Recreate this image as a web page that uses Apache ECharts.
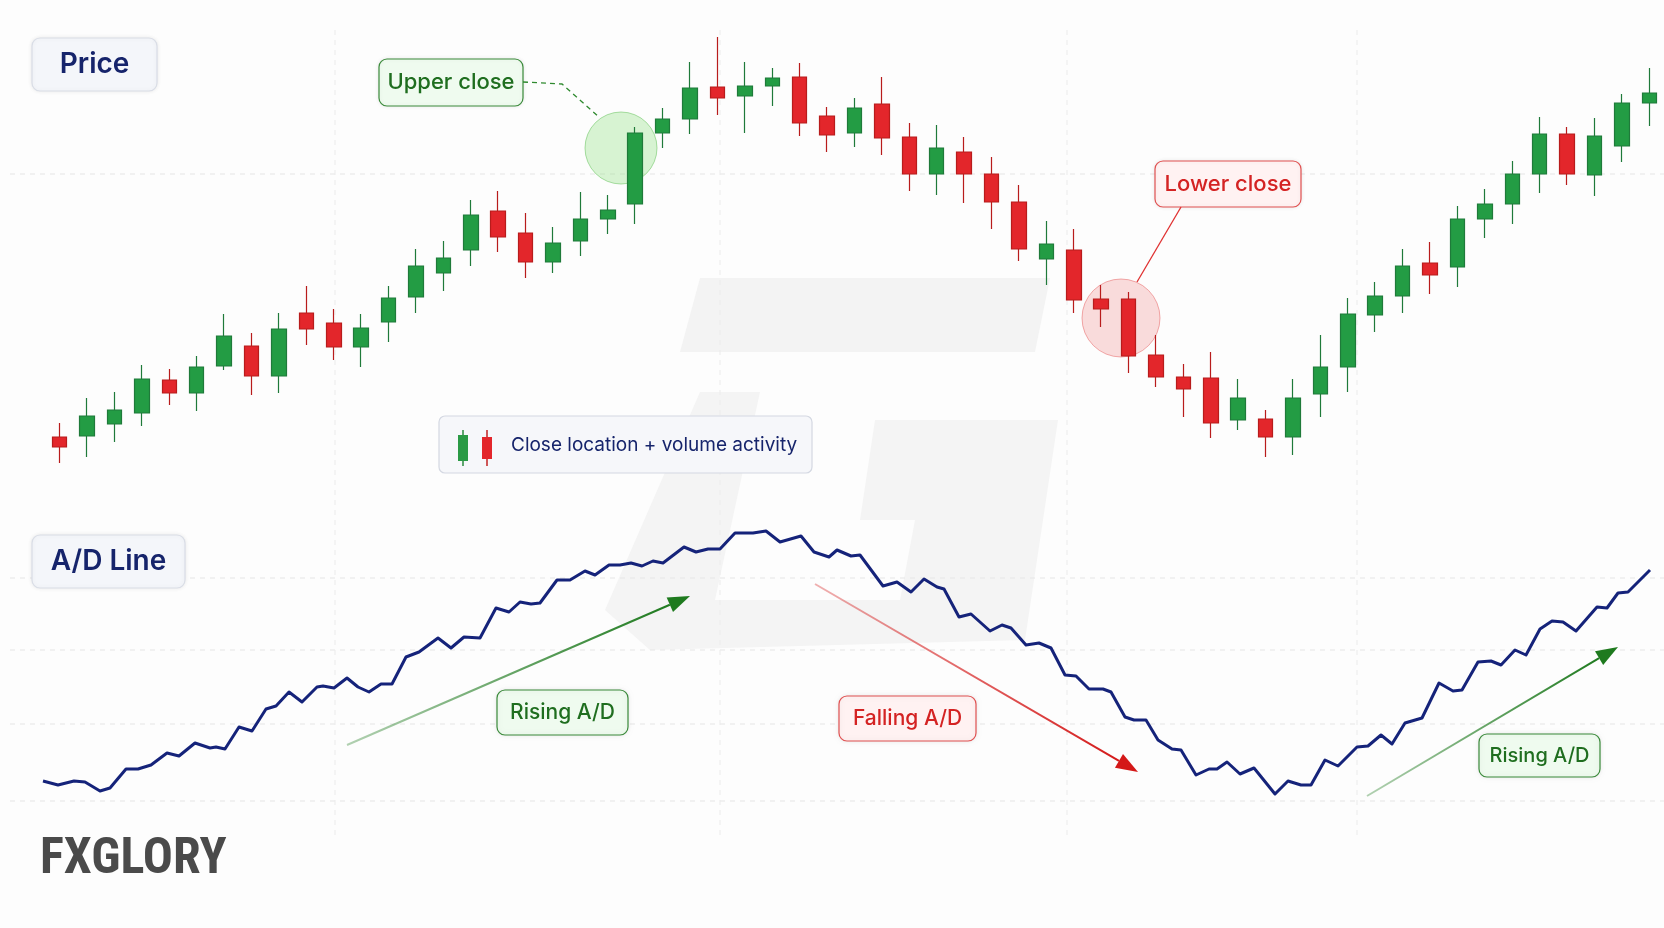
<!DOCTYPE html>
<html>
<head>
<meta charset="utf-8">
<script src="https://cdn.jsdelivr.net/npm/echarts@6/dist/echarts.min.js"></script>
<style>
  html, body { margin: 0; padding: 0; background: #fff; }
  #chart { width: 1664px; height: 928px; }
</style>
</head>
<body>
<div id="chart"></div>
<script>
// 价格K线 [open, close, low, high]
var candleData = [
  [563,553,537,577],[564,584,543,602],[576,590,558,608],[587,621,574,635],[620,607,595,631],
  [607,633,589,644],[634,664,630,686],[654,624,605,667],[624,671,607,687],[687,671,655,714],
  [677,653,640,691],[653,672,633,686],[678,702,658,714],[703,734,687,751],[727,742,709,759],
  [750,785,734,800],[789,763,748,809],[767,738,722,787],[738,757,727,773],[759,781,744,808],
  [781,790,766,805],[796,867,776,873],[867,881,852,892],[881,912,866,938],[913,902,885,963],
  [904,914,867,938],[914,922,894,932],[923,877,864,937],[884,865,848,893],[867,892,853,902],
  [896,862,845,923],[863,826,809,877],[826,852,805,875],[848,826,797,863],[826,798,771,843],
  [798,751,739,815],[741,756,715,779],[750,700,687,771],[701,691,673,715],[701,644,627,708],
  [645,623,613,665],[623,611,583,636],[622,577,562,648],[580,602,570,621],[581,563,543,590],
  [563,602,545,621],[606,633,583,665],[633,686,608,702],[685,704,668,718],[704,734,687,751],
  [737,725,706,758],[733,781,713,794],[781,796,762,811],[796,826,776,839],[826,866,807,883],
  [866,826,815,873],[825,864,804,882],[854,897,838,906],[897,907,874,932]
];
var candleCats = candleData.map(function (d, i) { return i + 1; });

// A/D 线：时间位置 与 数值
var adT = [43,58,74,85,100,110,126,138,151,167,179,195,210,216,225,239,252,266,276,289,302,317,323,334,347,358,369,381,392,406,419,438,451,464,480,496,509,520,531,540,557,570,585,595,609,620,631,642,653,663,684,696,708,720,735,753,766,780,801,814,829,
  837,851,860,883,897,911,924,937,944,959,971,990,1002,1011,1026,1039,1051,1065,1076,1089,1103,1111,1125,1134,1146,1158,1172,1181,1196,1209,1217,1227,1240,1254,1275,1288,1301,1311,1325,1338,1357,1368,1381,1392,1405,1422,1439,1453,1462,1478,1491,1501,1515,1526,1540,1552,1563,1576,1597,1607,1618,1628,1650];
var adVal = [219,215,219,218,209,212,231,231,235,247,244,257,252,253,251,273,269,291,294,308,298,313,314,312,322,313,308,316,316,343,348,362,352,363,362,392,388,398,396,397,420,420,429,425,435,435,437,434,439,437,453,448,451,451,467,467,469,458,464,448,443,
  450,444,445,414,418,408,421,413,411,383,386,369,375,372,355,357,352,325,324,311,311,308,283,280,280,260,251,250,225,231,231,238,226,232,206,219,215,215,240,234,253,254,265,256,277,282,317,309,310,338,339,335,350,345,371,379,378,369,393,392,407,408,430];
var adData = adT.map(function (t, i) { return [t, adVal[i]]; });

var chart = echarts.init(document.getElementById('chart'));
var FONT = 'Inter, Roboto, sans-serif';

function box(x, y, w, h, text, color, fill, stroke, size, weight) {
  return {
    type: 'group', z: 20,
    children: [
      { type: 'rect', shape: { x: x, y: y, width: w, height: h, r: 8 },
        style: { fill: fill, stroke: stroke, lineWidth: 1.2, shadowBlur: 4, shadowColor: 'rgba(0,0,0,0.08)' } },
      { type: 'text', x: x + w / 2, y: y + h / 2,
        style: { text: text, fill: color, font: (weight || 600) + ' ' + size + 'px ' + FONT, align: 'center', verticalAlign: 'middle' } }
    ]
  };
}
function dashH(y) {
  return { type: 'line', z: 0, shape: { x1: 10, y1: y, x2: 1664, y2: y }, style: { stroke: '#e6e6e6', lineDash: [5, 5], lineWidth: 1 } };
}
function dashV(x) {
  return { type: 'line', z: 0, shape: { x1: x, y1: 30, x2: x, y2: 840 }, style: { stroke: '#ececec', lineDash: [5, 5], lineWidth: 1 } };
}
function arrow(x1, y1, x2, y2, color) {
  var a = Math.atan2(y2 - y1, x2 - x1), L = 22, W = 8;
  var bx = x2 - L * Math.cos(a), by = y2 - L * Math.sin(a);
  return {
    type: 'group', z: 15,
    children: [
      { type: 'line', shape: { x1: x1, y1: y1, x2: bx, y2: by },
        style: { lineWidth: 2, stroke: new echarts.graphic.LinearGradient(0, 0, 1, 0, [{ offset: 0, color: color + '55' }, { offset: 1, color: color }]) } },
      { type: 'polygon', shape: { points: [[x2, y2], [bx + W * Math.sin(a), by - W * Math.cos(a)], [bx - W * Math.sin(a), by + W * Math.cos(a)]] },
        style: { fill: color } }
    ]
  };
}

var option = {
  backgroundColor: '#fdfdfd',
  animation: false,
  grid: [
    { left: 46, right: 1, top: 0, bottom: 0 },
    { left: 0, right: 0, top: 0, bottom: 0 }
  ],
  xAxis: [
    { type: 'category', gridIndex: 0, data: candleCats, show: false, boundaryGap: true },
    { type: 'value', gridIndex: 1, min: 0, max: 1664, show: false }
  ],
  yAxis: [
    { type: 'value', gridIndex: 0, min: 72, max: 1000, show: false },
    { type: 'value', gridIndex: 1, min: 72, max: 1000, show: false }
  ],
  graphic: [
    // 水印
    { type: 'polygon', z: 0, shape: { points: [[700, 278], [1050, 278], [1035, 352], [680, 352]] }, style: { fill: '#f3f3f3' } },
    { type: 'polygon', z: 0, shape: { points: [[700, 392], [760, 392], [715, 600], [900, 600], [915, 520], [860, 520], [875, 420], [1058, 420], [1025, 640], [650, 650], [605, 610]] }, style: { fill: '#f4f4f4' } },
    dashH(174), dashH(578), dashH(650), dashH(724), dashH(801),
    dashV(335), dashV(720), dashV(1067), dashV(1357),
    box(32, 38, 125, 53, 'Price', '#16246b', '#f4f6fa', '#d9dde6', 28, 600),
    box(379, 59, 144, 47, 'Upper close', '#1f6e1f', '#effbef', '#3a8a3a', 22, 500),
    { type: 'polyline', z: 16, shape: { points: [[523, 82], [562, 84], [600, 118]] }, style: { stroke: '#2f8a2f', lineDash: [5, 4], lineWidth: 1.3, fill: null } },
    { type: 'circle', z: 4, shape: { cx: 621, cy: 148, r: 36 }, style: { fill: 'rgba(120,220,100,0.28)', stroke: 'rgba(90,190,80,0.5)', lineWidth: 1 } },
    box(1155, 161, 146, 46, 'Lower close', '#d42323', '#fff2f2', '#e05050', 22, 500),
    { type: 'line', z: 16, shape: { x1: 1181, y1: 207, x2: 1137, y2: 282 }, style: { stroke: '#e03030', lineWidth: 1.3 } },
    { type: 'circle', z: 4, shape: { cx: 1121, cy: 318, r: 39 }, style: { fill: 'rgba(240,120,120,0.25)', stroke: 'rgba(230,90,90,0.5)', lineWidth: 1 } },
    { type: 'group', z: 20, children: [
      { type: 'rect', shape: { x: 439, y: 416, width: 373, height: 57, r: 6 }, style: { fill: '#f6f7fa', stroke: '#d4d8e2', lineWidth: 1.2 } },
      { type: 'line', shape: { x1: 463, y1: 430, x2: 463, y2: 466 }, style: { stroke: '#2a8a3e', lineWidth: 1.5 } },
      { type: 'rect', shape: { x: 458, y: 435, width: 10, height: 26 }, style: { fill: '#2a9a45' } },
      { type: 'line', shape: { x1: 487, y1: 430, x2: 487, y2: 466 }, style: { stroke: '#c02020', lineWidth: 1.5 } },
      { type: 'rect', shape: { x: 482, y: 437, width: 10, height: 22 }, style: { fill: '#e3262b' } },
      { type: 'text', x: 511, y: 445, style: { text: 'Close location + volume activity', fill: '#16246b', font: '400 19px ' + FONT, verticalAlign: 'middle' } }
    ] },
    box(32, 535, 153, 53, 'A/D Line', '#16246b', '#f4f6fa', '#d9dde6', 28, 600),
    arrow(347, 745, 690, 596, '#1e7a1e'),
    box(497, 690, 131, 45, 'Rising A/D', '#1f6e1f', '#effbef', '#3a8a3a', 21, 500),
    arrow(815, 584, 1138, 772, '#d41818'),
    box(839, 696, 137, 45, 'Falling A/D', '#d42323', '#fff2f2', '#e05050', 21, 500),
    arrow(1367, 796, 1618, 647, '#1e7a1e'),
    box(1479, 734, 121, 43, 'Rising A/D', '#1f6e1f', '#effbef', '#3a8a3a', 20, 500),
    { type: 'text', z: 20, x: 40, y: 860, style: { text: 'FXGLORY', fill: '#4a4a4a', font: '700 50px "Roboto Condensed", Roboto, sans-serif', verticalAlign: 'middle' } }
  ],
  series: [
    {
      type: 'candlestick',
      xAxisIndex: 0, yAxisIndex: 0,
      data: candleData,
      barWidth: 15,
      z: 10,
      itemStyle: {
        color: '#239c44',
        color0: '#e3262b',
        borderColor: '#1f7a3a',
        borderColor0: '#b81c1c',
        borderWidth: 1.2
      }
    },
    {
      type: 'line',
      xAxisIndex: 1, yAxisIndex: 1,
      data: adData,
      showSymbol: false,
      z: 10,
      lineStyle: { color: '#15237a', width: 3, join: 'round' }
    }
  ]
};
chart.setOption(option);
</script>
</body>
</html>
